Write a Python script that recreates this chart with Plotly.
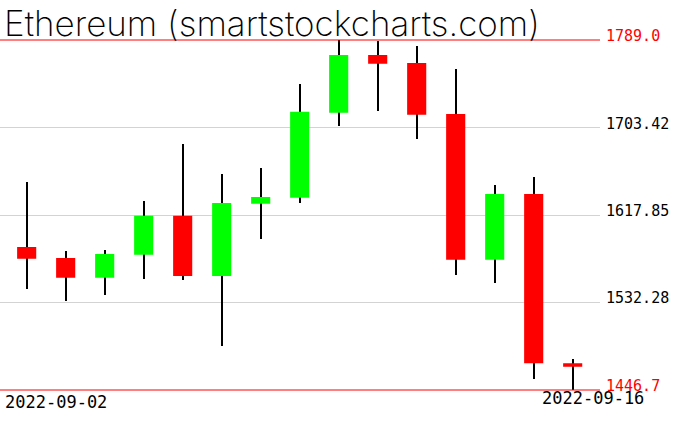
import plotly.graph_objects as go

# ---- data ----
dates = ["2022-09-02", "2022-09-03", "2022-09-04", "2022-09-05", "2022-09-06",
         "2022-09-07", "2022-09-08", "2022-09-09", "2022-09-10", "2022-09-11",
         "2022-09-12", "2022-09-13", "2022-09-14", "2022-09-15", "2022-09-16"]
opens  = [1586.6, 1575.8, 1556.5, 1579.0, 1617.2, 1558.2, 1628.9, 1634.8,
          1717.9, 1774.3, 1766.5, 1716.6, 1574.1, 1638.4, 1472.8]
highs  = [1650.1, 1582.6, 1583.6, 1631.5, 1687.3, 1658.0, 1663.8, 1746.0,
          1789.0, 1788.5, 1783.1, 1760.3, 1647.2, 1655.0, 1476.7]
lows   = [1545.8, 1534.0, 1539.9, 1555.6, 1554.6, 1490.0, 1594.7, 1629.9,
          1705.2, 1719.9, 1692.5, 1559.5, 1551.6, 1457.5, 1446.7]
closes = [1575.1, 1556.5, 1579.7, 1617.2, 1558.2, 1629.6, 1635.5, 1718.9,
          1774.3, 1765.8, 1715.9, 1574.1, 1638.4, 1472.8, 1469.5]

tick_values = [1446.7, 1532.28, 1617.85, 1703.42, 1789.0]
tick_labels = ["1446.7", "1532.28", "1617.85", "1703.42", "1789.0"]
title_text = "Ethereum (smartstockcharts.com)"

fig = go.Figure()

# wicks (bar layer sits below the candle bodies)
fig.add_trace(go.Bar(
    x=dates, base=lows, y=[h - l for h, l in zip(highs, lows)],
    width=0.03, marker=dict(color="black", line=dict(width=0)),
    hoverinfo="skip", showlegend=False))

# bodies
fig.add_trace(go.Candlestick(
    x=dates, open=opens, high=highs, low=lows, close=closes,
    increasing=dict(fillcolor="#00ff00", line=dict(color="#00ff00", width=0)),
    decreasing=dict(fillcolor="#ff0000", line=dict(color="#ff0000", width=0)),
    whiskerwidth=0, showlegend=False))

ymin, ymax = tick_values[0], tick_values[-1]

# red min / max lines at the bottom and top edges of the plot area
shapes = []
for edge in (0, 1):
    shapes.append(dict(type="line", xref="paper", yref="paper", x0=0, x1=1, y0=edge, y1=edge,
                       line=dict(color="#ff0000", width=1)))

annotations = []
for v, t in zip(tick_values, tick_labels):
    red = v in (ymin, ymax)
    annotations.append(dict(
        xref="paper", yref="y", x=1, y=v, xanchor="left", yanchor="bottom",
        xshift=4, yshift=-7, text=t, showarrow=False,
        font=dict(family="DejaVu Sans Mono", size=15, color="#ff0000" if red else "black")))

annotations.append(dict(
    xref="paper", yref="paper", x=0, y=0, xanchor="left", yanchor="top",
    xshift=3, yshift=0, text=dates[0], showarrow=False,
    font=dict(family="DejaVu Sans Mono", size=17, color="black")))
annotations.append(dict(
    xref="paper", yref="paper", x=1, y=0, xanchor="right", yanchor="top",
    xshift=46, yshift=4, text=dates[-1], showarrow=False,
    font=dict(family="DejaVu Sans Mono", size=17, color="black")))

annotations.append(dict(
    xref="paper", yref="paper", x=0, y=1, xanchor="left", yanchor="bottom",
    xshift=2, yshift=-6, text=title_text, showarrow=False,
    font=dict(family="Inter", size=35, color="black", weight=200)))

fig.update_layout(
    width=676, height=431,
    margin=dict(l=0, r=76, t=40, b=41),
    paper_bgcolor="white", plot_bgcolor="white",
    showlegend=False,
    bargap=0,
    xaxis=dict(type="category", range=[-0.684, 14.70], showgrid=False,
               showticklabels=False, zeroline=False, showline=False, ticks="",
               rangeslider=dict(visible=False), fixedrange=True),
    yaxis=dict(range=[ymin, ymax], tickvals=tick_values[1:-1], showgrid=True,
               gridcolor="#d3d3d3", gridwidth=1, showticklabels=False,
               zeroline=False, showline=False, ticks="", fixedrange=True),
    shapes=shapes,
    annotations=annotations,
)

fig.write_html("out.html", config={"displayModeBar": False},
               post_script="document.body.style.margin='0';")
